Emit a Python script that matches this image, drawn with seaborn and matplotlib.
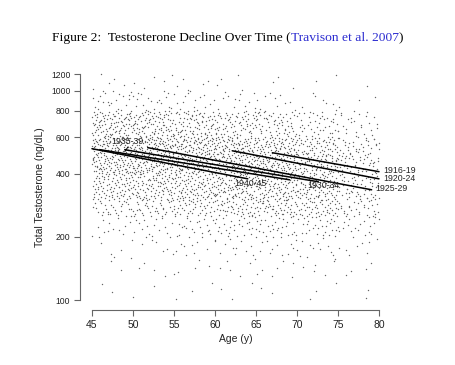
import numpy as np
import pandas as pd
import matplotlib
matplotlib.use("Agg")
import matplotlib.pyplot as plt
from matplotlib.ticker import NullLocator
import seaborn as sns

# ---------------- data ----------------
cohorts = ["1916-19", "1920-24", "1925-29", "1930-34", "1935-39", "1940-45"]
age_start = [67.0, 62.1, 51.8, 49.0, 46.0, 45.0]
age_end = [80.0, 80.0, 79.1, 72.6, 69.1, 64.0]
t_start = [505, 516, 534, 522, 522, 528]
t_end = [410, 379, 336, 367, 375, 379]

age_edges = [45, 50, 55, 60, 65, 70, 75, 80]
t_edges = [100, 130, 160, 200, 250, 300, 400, 500, 600, 800, 1000, 1200]
counts = [  # rows: T bins (low -> high); cols: age bins
    [2, 2, 3, 3, 3, 3, 2],
    [3, 4, 5, 6, 6, 6, 4],
    [5, 7, 10, 12, 12, 12, 8],
    [13, 16, 22, 25, 28, 28, 18],
    [30, 35, 40, 45, 48, 45, 30],
    [85, 90, 95, 100, 100, 88, 58],
    [95, 100, 100, 100, 95, 78, 48],
    [85, 85, 82, 76, 68, 52, 32],
    [95, 90, 80, 68, 58, 42, 24],
    [20, 18, 15, 12, 10, 7, 4],
    [6, 5, 5, 4, 3, 2, 1],
]

x_ticks = [45, 50, 55, 60, 65, 70, 75, 80]
y_ticks = [100, 200, 400, 600, 800, 1000, 1200]

# label anchor points (age, T)
label_pos = {
    "1916-19": (80.5, 414, "left"),
    "1920-24": (80.5, 379, "left"),
    "1925-29": (79.6, 340, "left"),
    "1930-34": (73.2, 351, "center"),
    "1940-45": (64.3, 359, "center"),
    "1935-39": (49.3, 570, "center"),
}


# ---------------- expand density table into point positions ----------------
def halton(k, base):
    f, r = 1.0, 0.0
    while k > 0:
        f /= base
        r += f * (k % base)
        k //= base
    return r


ages, tvals = [], []
cell = 0
for j in range(len(t_edges) - 1):
    lt0, lt1 = np.log10(t_edges[j]), np.log10(t_edges[j + 1])
    for i in range(len(age_edges) - 1):
        n = counts[j][i]
        start = 1 + cell * 37
        ou = (cell * 0.6180339887) % 1.0
        ov = (cell * 0.4142135624) % 1.0
        for k in range(start, start + n):
            u = (halton(k, 2) + ou) % 1.0
            v = (halton(k, 3) + ov) % 1.0
            ages.append(age_edges[i] + u * (age_edges[i + 1] - age_edges[i]))
            tvals.append(10 ** (lt0 + v * (lt1 - lt0)))
        cell += 1
pts = pd.DataFrame({"age": ages, "T": tvals})

lines = pd.DataFrame({
    "cohort": cohorts + cohorts,
    "age": age_start + age_end,
    "T": t_start + t_end,
})

# ---------------- plot ----------------
sns.set_style("ticks")
plt.rcParams["font.family"] = ["Liberation Sans", "DejaVu Sans"]

fig = plt.figure(figsize=(4.55, 3.65), dpi=100)
ax = fig.add_axes([0.1758, 0.1507, 0.6835, 0.674])

sns.scatterplot(data=pts, x="age", y="T", s=1.0, color="#666666",
                linewidth=0, ax=ax, legend=False)
sns.lineplot(data=lines, x="age", y="T", units="cohort", estimator=None,
             color="black", linewidth=1.1, ax=ax, legend=False, sort=True)

ax.set_yscale("log")
ax.set_xlim(43.54, 81.46)
ax.set_ylim(89.6, 1340)
ax.set_xticks(x_ticks)
ax.set_xticklabels([str(t) for t in x_ticks], fontsize=7.5)
ax.set_yticks(y_ticks)
ax.set_yticklabels([str(t) for t in y_ticks], fontsize=6.2)
ax.yaxis.set_minor_locator(NullLocator())

for s in ["top", "right"]:
    ax.spines[s].set_visible(False)
ax.spines["left"].set_bounds(100, 1200)
ax.spines["bottom"].set_bounds(45, 80)
for s in ["left", "bottom"]:
    ax.spines[s].set_color("#666666")
    ax.spines[s].set_linewidth(0.8)
ax.tick_params(axis="both", length=4, width=0.8, color="#666666",
               labelcolor="#222222", pad=3)

ax.set_xlabel("Age (y)", fontsize=7.5, labelpad=3, color="#222222")
ax.set_ylabel("Total Testosterone (ng/dL)", fontsize=7.5, labelpad=4,
              color="#222222")

for c in cohorts:
    x, y, ha = label_pos[c]
    ax.text(x, y, c, fontsize=6.3, ha=ha, va="center", color="#222222",
            clip_on=False)
# leader for 1935-39
ax.plot([49.4, 49.0], [539, 511], color="black", lw=0.7)

# title with coloured citation
tfont = dict(fontsize=9.7, family=["Liberation Serif", "DejaVu Serif"], va="baseline")
yb = 0.888
t1 = fig.text(0.5, yb, "Figure 2:  Testosterone Decline Over Time (", ha="left",
              color="black", **tfont)
t2 = fig.text(0.5, yb, "Travison et al. 2007", ha="left", color="#2b2bd0", **tfont)
t3 = fig.text(0.5, yb, ")", ha="left", color="black", **tfont)
fig.canvas.draw()
r = fig.canvas.get_renderer()
W = fig.bbox.width
w1 = t1.get_window_extent(r).width / W
w2 = t2.get_window_extent(r).width / W
w3 = t3.get_window_extent(r).width / W
x0 = 0.5 - (w1 + w2 + w3) / 2
t1.set_x(x0)
t2.set_x(x0 + w1)
t3.set_x(x0 + w1 + w2)

fig.savefig("out.png", dpi=100)
